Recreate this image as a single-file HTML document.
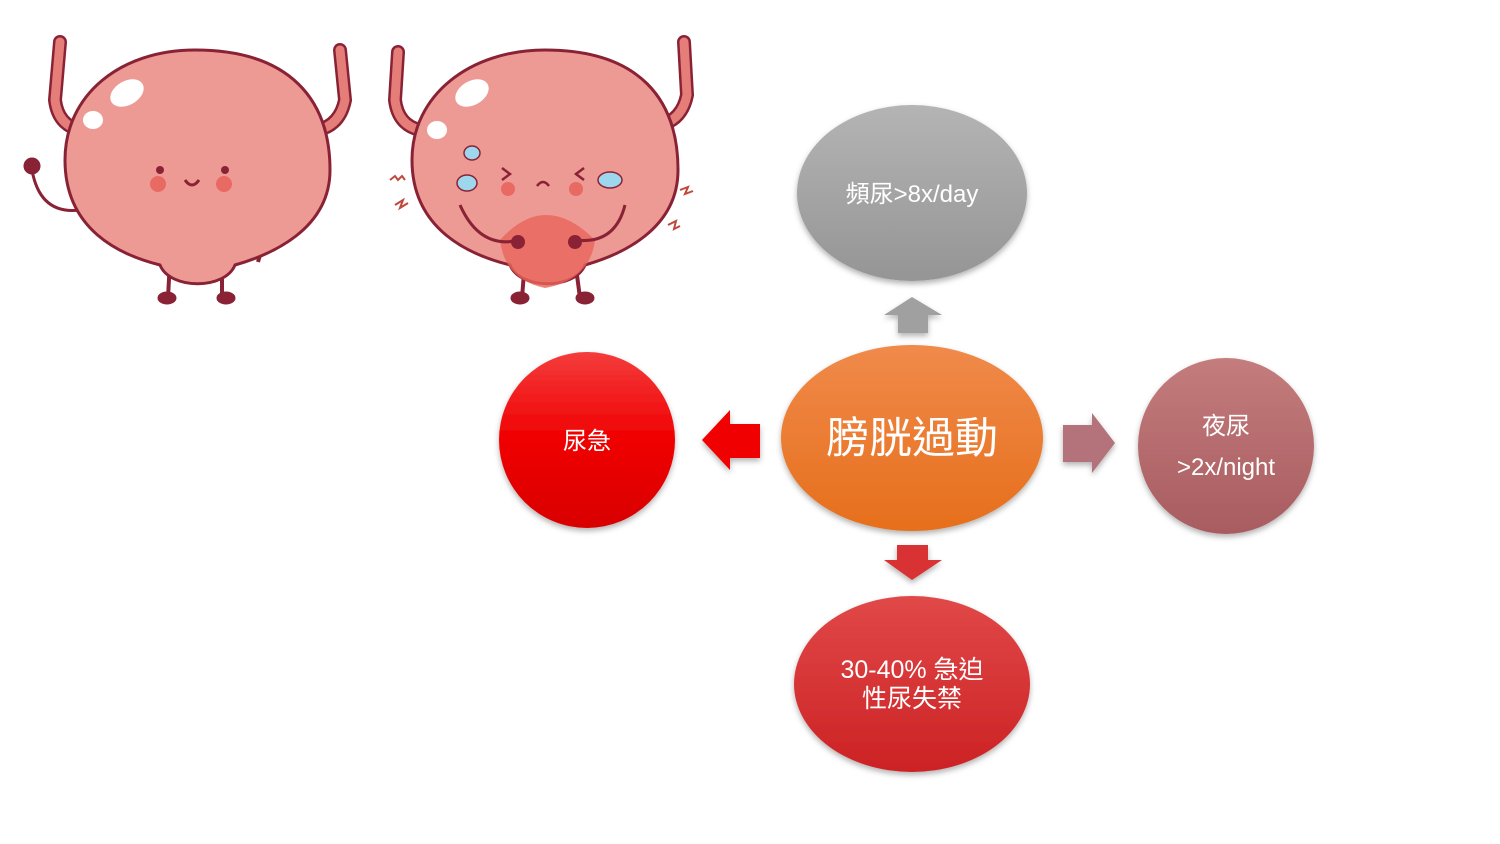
<!DOCTYPE html>
<html><head><meta charset="utf-8"><style>
html,body{margin:0;padding:0;background:#fff;}
svg{display:block}
text{font-family:"Liberation Sans","Noto Sans CJK TC",sans-serif;fill:#fff;text-anchor:middle}
</style></head><body>
<svg width="1500" height="844" viewBox="0 0 1500 844" xmlns="http://www.w3.org/2000/svg">
<defs>
<linearGradient id="gg" x1="0" y1="0" x2="0" y2="1"><stop offset="0" stop-color="#b4b4b4"/><stop offset="1" stop-color="#959595"/></linearGradient>
<linearGradient id="go" x1="0" y1="0" x2="0" y2="1"><stop offset="0" stop-color="#f08a4a"/><stop offset="1" stop-color="#e66f1c"/></linearGradient>
<linearGradient id="gr" x1="0" y1="0" x2="0" y2="1"><stop offset="0" stop-color="#f43c3c"/><stop offset="0.5" stop-color="#f00000"/><stop offset="1" stop-color="#d80000"/></linearGradient>
<linearGradient id="gm" x1="0" y1="0" x2="0" y2="1"><stop offset="0" stop-color="#c47c7c"/><stop offset="1" stop-color="#a85c60"/></linearGradient>
<linearGradient id="gb" x1="0" y1="0" x2="0" y2="1"><stop offset="0" stop-color="#e14848"/><stop offset="1" stop-color="#cc2224"/></linearGradient>
<filter id="sh" x="-20%" y="-20%" width="140%" height="140%"><feDropShadow dx="0" dy="3" stdDeviation="3" flood-opacity="0.3"/></filter>
</defs>

<!-- bladders -->
<g stroke="#8a2236" stroke-width="3" fill="#e57e78">
 <path d="M60,42 L55,100 Q58,125 80,130" fill="none" stroke="#8a2236" stroke-width="14" stroke-linecap="round"/>
 <path d="M60,42 L55,100 Q58,125 80,130" fill="none" stroke="#e57e78" stroke-width="9" stroke-linecap="round"/>
 <path d="M340,50 L345,100 Q340,125 318,130" fill="none" stroke="#8a2236" stroke-width="14" stroke-linecap="round"/>
 <path d="M340,50 L345,100 Q340,125 318,130" fill="none" stroke="#e57e78" stroke-width="9" stroke-linecap="round"/>
 <path d="M170,260 L168,298 M222,260 L222,298" fill="none" stroke-width="4"/>
 <path d="M32,170 Q40,215 80,210" fill="none" stroke-width="3"/>
 <path d="M260,240 Q300,230 290,215 M258,262 L262,248" fill="none" stroke-width="4"/>
 <circle cx="32" cy="166" r="7" fill="#8a2236"/>
 <path d="M195,50 C290,50 330,100 330,170 C330,230 270,255 235,265 C225,290 170,290 160,265 C120,255 65,230 65,160 C65,95 120,50 195,50 Z" fill="#ee9a94"/>
 <ellipse cx="167" cy="298" rx="8" ry="5" fill="#8a2236"/><ellipse cx="226" cy="298" rx="8" ry="5" fill="#8a2236"/>
</g>
<ellipse cx="127" cy="93" rx="18" ry="12" fill="#fff" transform="rotate(-30 127 93)"/>
<ellipse cx="93" cy="120" rx="10" ry="9" fill="#fff"/>
<circle cx="160" cy="170" r="4" fill="#8a2236"/><circle cx="225" cy="170" r="4" fill="#8a2236"/>
<path d="M185,180 Q192,190 199,180" fill="none" stroke="#8a2236" stroke-width="3"/>
<circle cx="158" cy="184" r="8" fill="#e96a62"/><circle cx="224" cy="184" r="8" fill="#e96a62"/>

<g stroke="#8a2236" stroke-width="3" fill="#e57e78">
 <path d="M398,52 L395,100 Q398,125 420,130" fill="none" stroke-width="14" stroke-linecap="round"/>
 <path d="M398,52 L395,100 Q398,125 420,130" fill="none" stroke="#e57e78" stroke-width="9" stroke-linecap="round"/>
 <path d="M684,42 L687,95 Q682,120 660,125" fill="none" stroke-width="14" stroke-linecap="round"/>
 <path d="M684,42 L687,95 Q682,120 660,125" fill="none" stroke="#e57e78" stroke-width="9" stroke-linecap="round"/>
 <path d="M525,260 L522,298 M575,260 L580,298" fill="none" stroke-width="4"/>
 <path d="M545,50 C640,50 678,100 678,170 C678,230 620,255 585,265 C575,290 520,290 510,265 C470,255 412,230 412,160 C412,95 470,50 545,50 Z" fill="#ee9a94"/>
 <ellipse cx="520" cy="298" rx="8" ry="5" fill="#8a2236"/><ellipse cx="585" cy="298" rx="8" ry="5" fill="#8a2236"/>
</g>
<path d="M500,240 Q545,190 595,240 Q590,280 545,288 Q505,280 500,240 Z" fill="#e8645a" opacity="0.8"/>
<path d="M460,205 Q480,250 520,240 M625,205 Q615,245 575,240" fill="none" stroke="#8a2236" stroke-width="3"/>
<circle cx="518" cy="242" r="7" fill="#8a2236"/><circle cx="575" cy="242" r="7" fill="#8a2236"/>
<ellipse cx="472" cy="93" rx="18" ry="12" fill="#fff" transform="rotate(-30 472 93)"/>
<ellipse cx="437" cy="130" rx="10" ry="9" fill="#fff"/>
<ellipse cx="472" cy="153" rx="8" ry="7" fill="#9dd7ee" stroke="#8a2236" stroke-width="1.5"/>
<ellipse cx="467" cy="183" rx="10" ry="8" fill="#9dd7ee" stroke="#8a2236" stroke-width="1.5"/>
<ellipse cx="610" cy="180" rx="12" ry="8" fill="#9dd7ee" stroke="#8a2236" stroke-width="1.5"/>
<path d="M502,168 L510,174 L502,180 M584,168 L576,174 L584,180 M537,186 Q543,178 549,186" fill="none" stroke="#8a2236" stroke-width="2.5"/>
<circle cx="508" cy="189" r="7" fill="#e96a62"/><circle cx="576" cy="189" r="7" fill="#e96a62"/>
<path d="M390,180 l5,-4 l3,4 l4,-4 l3,4 M395,205 l8,-5 l-3,8 l8,-5 M680,190 l8,-3 l-3,7 l8,-3 M668,225 l8,-4 l-2,8 l6,-3" fill="none" stroke="#c0483c" stroke-width="2"/>

<!-- diagram -->
<g filter="url(#sh)">
<ellipse cx="912" cy="193" rx="115" ry="88" fill="url(#gg)"/>
<ellipse cx="912" cy="438" rx="131" ry="93" fill="url(#go)"/>
<ellipse cx="587" cy="440" rx="88" ry="88" fill="url(#gr)"/>
<ellipse cx="1226" cy="446" rx="88" ry="88" fill="url(#gm)"/>
<ellipse cx="912" cy="684" rx="118" ry="88" fill="url(#gb)"/>
<polygon points="912,297 942,315 928,315 928,333 898,333 898,315 884,315" fill="#a0a0a0"/>
<polygon points="702,440 730,410 730,424 760,424 760,458 730,458 730,470" fill="#f00000"/>
<polygon points="1115,443 1092,413 1092,425 1063,425 1063,462 1092,462 1092,473" fill="#b4727a"/>
<polygon points="912,580 942,560 928,560 928,545 897,545 897,560 884,560" fill="#d83034"/>
</g>
<text x="912" y="202" font-size="24">頻尿&gt;8x/day</text>
<text x="912" y="453" font-size="43">膀胱過動</text>
<text x="587" y="449" font-size="24">尿急</text>
<text x="1226" y="434" font-size="24">夜尿</text>
<text x="1226" y="475" font-size="24">&gt;2x/night</text>
<text x="912" y="678" font-size="25">30-40% 急迫</text>
<text x="912" y="707" font-size="25">性尿失禁</text>
</svg>
</body></html>
